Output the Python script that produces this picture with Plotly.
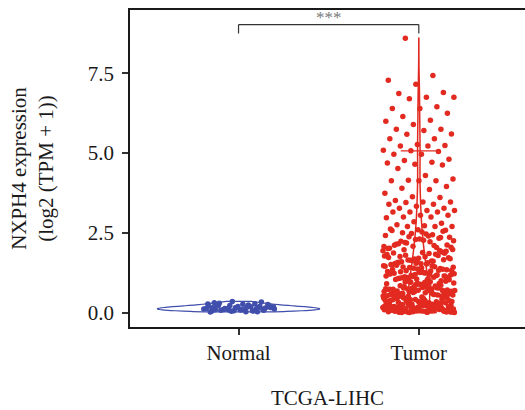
import numpy as np
import plotly.graph_objects as go

categories = ["Normal", "Tumor"]

normal_values = [
    0.05, 0.12, 0.08, 0.18, 0.03, 0.22, 0.10, 0.15, 0.27, 0.06,
    0.13, 0.20, 0.09, 0.31, 0.17, 0.04, 0.11, 0.24, 0.07, 0.14,
    0.19, 0.02, 0.28, 0.12, 0.16, 0.09, 0.21, 0.33, 0.06, 0.13,
    0.18, 0.10, 0.25, 0.08, 0.15, 0.03, 0.22, 0.11, 0.17, 0.29,
    0.07, 0.14, 0.20, 0.05, 0.12, 0.16, 0.26, 0.09, 0.19, 0.35,
]

tumor_values = [
    # 0 - 0.5
    0.00, 0.02, 0.05, 0.01, 0.08, 0.12, 0.03, 0.15, 0.07, 0.18, 0.22, 0.04, 0.10, 0.26, 0.09,
    0.31, 0.14, 0.06, 0.35, 0.20, 0.11, 0.28, 0.02, 0.38, 0.17, 0.42, 0.13, 0.24, 0.05, 0.46,
    0.19, 0.33, 0.08, 0.27, 0.40, 0.16, 0.01, 0.21, 0.48, 0.12, 0.30, 0.06, 0.36, 0.23, 0.44,
    0.10, 0.29, 0.03, 0.39, 0.15, 0.25, 0.47, 0.18, 0.07, 0.34, 0.43, 0.11, 0.22, 0.32, 0.09,
    0.41, 0.14, 0.26, 0.04, 0.37, 0.49, 0.19, 0.28, 0.13, 0.45, 0.21, 0.06, 0.31, 0.17, 0.38,
    0.24, 0.02, 0.35, 0.27, 0.44, 0.16, 0.10, 0.33, 0.20, 0.47, 0.08, 0.29, 0.40, 0.12, 0.23,
    0.00, 0.01, 0.03, 0.04, 0.06, 0.09, 0.11, 0.13, 0.02, 0.05, 0.07, 0.15, 0.18, 0.21, 0.25,
    0.00, 0.02, 0.08, 0.12, 0.16,
    # 0.5 - 1.0
    0.51, 0.55, 0.62, 0.58, 0.70, 0.66, 0.53, 0.74, 0.81, 0.59, 0.88, 0.64, 0.77, 0.95, 0.52,
    0.69, 0.84, 0.61, 0.92, 0.73, 0.57, 0.99, 0.67, 0.80, 0.54, 0.86, 0.63, 0.75, 0.97, 0.60,
    0.71, 0.89, 0.56, 0.78, 0.65, 0.93, 0.82, 0.50, 0.68, 0.87, 0.72, 0.58, 0.96, 0.63, 0.79,
    0.54, 0.91, 0.76, 0.66, 0.85, 0.60, 0.98, 0.70, 0.57, 0.83, 0.74, 0.62, 0.94, 0.68, 0.52,
    0.81, 0.90, 0.65, 0.77, 0.59, 0.87, 0.73, 0.55, 0.96, 0.69,
    # 1.0 - 1.5
    1.02, 1.08, 1.15, 1.05, 1.22, 1.11, 1.31, 1.18, 1.26, 1.04, 1.38, 1.13, 1.45, 1.20, 1.09,
    1.34, 1.27, 1.49, 1.16, 1.01, 1.42, 1.24, 1.07, 1.36, 1.19, 1.29, 1.46, 1.12, 1.03, 1.40,
    1.23, 1.33, 1.17, 1.47, 1.06, 1.28, 1.14, 1.37, 1.21, 1.44, 1.10, 1.32, 1.25, 1.48, 1.00,
    1.39, 1.15, 1.30, 1.43, 1.09, 1.26, 1.35, 1.18, 1.41, 1.22,
    # 1.5 - 2.0
    1.52, 1.58, 1.66, 1.55, 1.73, 1.61, 1.80, 1.69, 1.88, 1.54, 1.95, 1.63, 1.77, 1.85, 1.59,
    1.92, 1.70, 1.51, 1.83, 1.65, 1.98, 1.75, 1.57, 1.90, 1.68, 1.82, 1.62, 1.97, 1.72, 1.53,
    1.87, 1.79, 1.64, 1.94, 1.56, 1.76, 1.86, 1.60,
    # 2.0 - 2.6
    2.02, 2.10, 2.18, 2.05, 2.27, 2.14, 2.35, 2.08, 2.42, 2.22, 2.50, 2.12, 2.31, 2.57, 2.04,
    2.38, 2.25, 2.46, 2.16, 2.55, 2.29, 2.01, 2.44, 2.20, 2.36, 2.53, 2.11, 2.33, 2.48, 2.07,
    2.40, 2.24, 2.58,
    # 2.6 - 6.0
    2.60, 2.62, 2.70, 2.70, 2.70, 2.72, 2.75, 2.80, 2.85, 2.97, 3.00, 3.00, 3.05, 3.05, 3.15,
    3.15, 3.15, 3.20, 3.20, 3.27, 3.27, 3.33, 3.40, 3.40, 3.45, 3.47, 3.47, 3.51, 3.61, 3.63,
    3.74, 3.86, 3.90, 3.95, 4.13, 4.13, 4.13, 4.15, 4.19, 4.30, 4.52, 4.63, 4.65, 4.69, 4.71,
    4.77, 4.81, 4.96, 4.96, 5.05, 5.07, 5.09, 5.22, 5.22, 5.24, 5.27, 5.45, 5.45, 5.59, 5.60,
    5.71, 5.75, 5.75, 5.90,
    # > 6
    6.00, 6.03, 6.15, 6.25, 6.40, 6.40, 6.45, 6.70, 6.75, 6.75, 6.87, 6.90, 7.16, 7.28, 7.43,
    8.60,
]

y_ticks = [0.0, 2.5, 5.0, 7.5]
y_ticklabels = ["0.0", "2.5", "5.0", "7.5"]
significance = "***"

RED = "rgb(226,42,32)"
BLUE = "rgb(64,78,172)"
SERIF = "Liberation Serif"
JITTER = 0.2  # half-width of horizontal jitter (category units)


def jitter_offsets(n, phase):
    # deterministic low-discrepancy jitter (golden-ratio sequence), like geom_jitter
    idx = np.arange(n)
    return ((idx * 0.6180339887 + phase) % 1.0 - 0.5) * 2 * JITTER


fig = go.Figure()

for ci, (vals, col, phase) in enumerate([(normal_values, BLUE, 0.13), (tumor_values, RED, 0.37)]):
    v = np.array(vals)
    fig.add_trace(go.Scatter(
        x=ci + jitter_offsets(len(v), phase), y=v, mode="markers",
        marker=dict(color=col, size=5.5), showlegend=False, hoverinfo="y",
    ))

# violins
fig.add_trace(go.Violin(
    x0=0, y=normal_values, points=False, width=0.9,
    spanmode="hard", fillcolor="rgba(0,0,0,0)", line=dict(color=BLUE, width=1.2),
    showlegend=False, box_visible=False, meanline_visible=False,
))
fig.add_trace(go.Violin(
    x0=1, y=tumor_values, points=False, width=0.12,
    spanmode="hard", fillcolor="rgba(0,0,0,0)", line=dict(color=RED, width=1.5),
    showlegend=False, box_visible=False, meanline_visible=False,
))

# whisker caps computed from data (boxplot style)
tv = np.array(tumor_values)
q1, q3 = np.percentile(tv, [25, 75])
iqr = q3 - q1
upper = tv[tv <= q3 + 1.5 * iqr].max()
lower = tv[tv >= q1 - 1.5 * iqr].min()
for w in (lower, upper):
    fig.add_shape(type="line", xref="x", yref="y", x0=0.9, x1=1.1, y0=w, y1=w,
                  line=dict(color=RED, width=1.2))

# significance bracket
fig.add_shape(type="line", xref="x", yref="y", x0=0, x1=1, y0=9.03, y1=9.03,
              line=dict(color="#333333", width=1.2))
fig.add_shape(type="line", xref="x", yref="y", x0=0, x1=0, y0=8.75, y1=9.03,
              line=dict(color="#333333", width=1.2))
fig.add_shape(type="line", xref="x", yref="y", x0=1, x1=1, y0=8.75, y1=9.03,
              line=dict(color="#333333", width=1.2))
fig.add_annotation(x=0.5, y=9.24, xref="x", yref="y", text=significance, showarrow=False,
                   font=dict(family=SERIF, size=17, color="#7a7a7a"))

fig.update_layout(
    width=525, height=410,
    margin=dict(l=130, r=0, t=10, b=83),
    plot_bgcolor="white", paper_bgcolor="white",
    violinmode="overlay",
    font=dict(family=SERIF, size=21, color="#1a1a1a"),
    xaxis=dict(
        range=[-0.602, 1.589], tickvals=[0, 1], ticktext=categories,
        showline=True, linecolor="#1a1a1a", linewidth=1.5,
        mirror=True, ticks="outside", ticklen=6, tickcolor="#333333", tickwidth=1.5,
        showgrid=False, zeroline=False,
        title=dict(text="TCGA-LIHC", standoff=28, font=dict(size=21)),
        tickfont=dict(size=21),
    ),
    yaxis=dict(
        range=[-0.452, 9.486], tickvals=y_ticks, ticktext=y_ticklabels,
        showline=True, linecolor="#1a1a1a", linewidth=1.5, ticks="outside", ticklen=6,
        tickcolor="#333333", tickwidth=1.5, showgrid=False, zeroline=False,
        title=dict(text="NXPH4 expression<br>(log2 (TPM + 1))", standoff=28, font=dict(size=21)),
        tickfont=dict(size=21), ticklabelstandoff=4,
    ),
)

fig.write_html("out.html")
